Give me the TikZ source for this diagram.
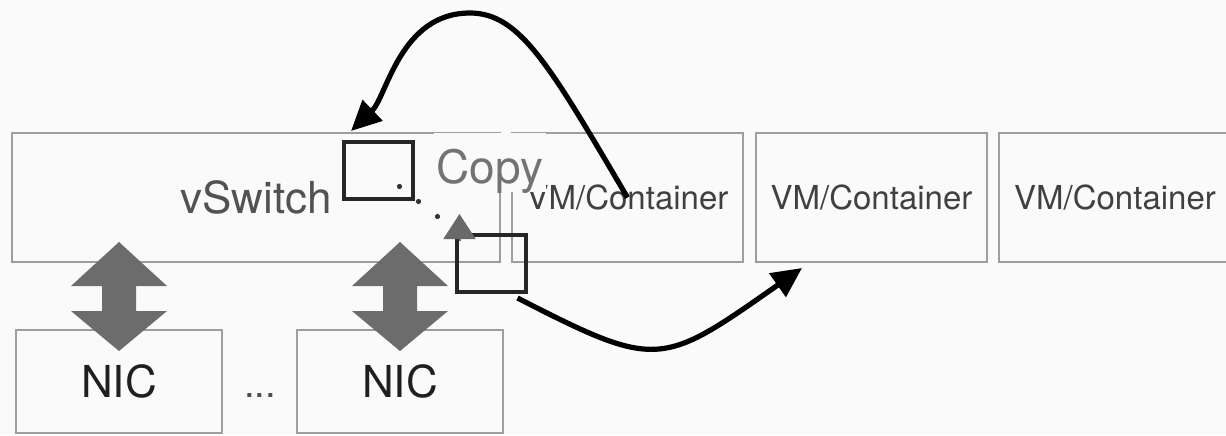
\documentclass[tikz,border=0pt]{standalone}
\usepackage{fontspec}
\setmainfont{TeX Gyre Heros}
\usetikzlibrary{arrows.meta}
\definecolor{bgcol}{RGB}{250,250,250}
\definecolor{boxline}{RGB}{158,158,158}
\definecolor{portgray}{RGB}{108,108,108}
\definecolor{linkgray}{RGB}{105,105,105}

\begin{document}
\begin{tikzpicture}[x=0.5pt,y=-0.5pt]
  \tikzset{
    unit/.style={draw=boxline, line width=1pt, minimum height=64.5pt, inner sep=0pt},
    hostbox/.style={unit, minimum width=115.5pt, text=black!75, font=\fontsize{16.5}{18}\selectfont},
    nicbox/.style={unit, minimum width=103pt, minimum height=51.5pt, text=black!88, font=\fontsize{22}{24}\selectfont},
    pkt/.style={draw=black!85, line width=2pt, minimum width=34.5pt, minimum height=28.5pt, inner sep=0pt},
    flow/.style={line width=2.6pt, -{Triangle[length=15pt,width=14pt]}},
    trail/.style={black!80, line width=2.6pt, line cap=round, dash pattern=on 0pt off 12.1pt}
  }
  \fill[bgcol] (0,0) rectangle (1226,435);
  \useasboundingbox (0,0) rectangle (1226,435);
  % host side
  \node[unit, minimum width=244pt, text=black!68, font=\fontsize{22}{24}\selectfont] (vswitch) at (256,197.5) {vSwitch};
  \node[hostbox] (vm1) at (627.5,197.5) {VM/Container};
  \node[hostbox] (vm2) at (871.5,197.5) {VM/Container};
  \node[hostbox, minimum width=116pt] (vm3) at (1115,197.5) {VM/Container};
  % hardware
  \node[nicbox] (nic1) at (119,381.5) {NIC};
  \node[nicbox] (nic2) at (400,381.5) {NIC};
  \node[font=\fontsize{19}{20}\selectfont, text=black!70, inner sep=0pt] (more) at (260,396) {...};
  \node[anchor=base, fill=bgcol, inner xsep=1.5pt, inner ysep=0pt, text height=25pt, text depth=4.5pt,
        text=black!55, font=\fontsize{23}{25}\selectfont] (copy) at (490,183) {Copy};
  % packets
  \node[pkt] (pktA) at (378.5,170.5) {};
  \node[pkt] (pktB) at (491,263.5) {};
  \coordinate (dotA) at ([shift={(21,16)}]pktA.center);
  \coordinate (top) at (470,13);
  \draw[trail] (dotA) -- ++(38.5,30.4);
  \draw[linkgray, line width=1pt, -{Triangle[length=12.5pt,width=16pt]}]
    ([shift={(5,8)}]pktB.north west) -- ([shift={(5,-19)}]pktB.north west);
  \draw[flow] (vm1.center) .. controls (550,66) and (520,13) .. (top)
    .. controls (400,13) and (387,96.5) .. ([shift={(9,-9)}]pktA.north west);
  \draw[flow] ([shift={(-10,4)}]pktB.south east) .. controls (658,370) and (661,367) .. ([shift={(47,5)}]vm2.south west);
  % nic links
  \foreach \n in {nic1,nic2}
    \fill[portgray] ([shift={(0,-87)}]\n.north) -- ++(48,44) -- ++(-31,0) -- ++(0,25) -- ++(31,0)
      -- ++(-48,40) -- ++(-48,-40) -- ++(31,0) -- ++(0,-25) -- ++(-31,0) -- cycle;
\end{tikzpicture}
\end{document}
